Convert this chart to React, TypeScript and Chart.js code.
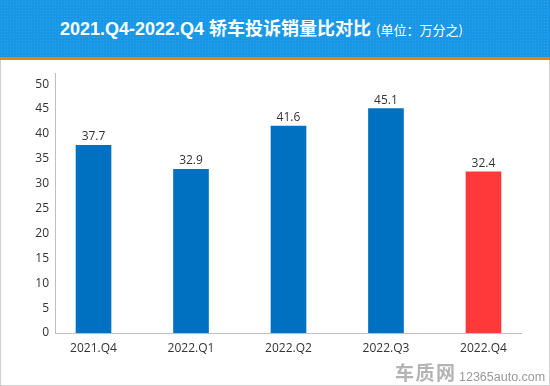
import React, { useEffect, useRef } from 'react';
import { Chart, registerables } from 'chart.js';

Chart.register(...registerables);

const categories = ['2021.Q4', '2022.Q1', '2022.Q2', '2022.Q3', '2022.Q4'];
const values = [37.7, 32.9, 41.6, 45.1, 32.4];
const barColors = ['#0070C0', '#0070C0', '#0070C0', '#0070C0', '#FF3939'];
const yTickValues = [0, 5, 10, 15, 20, 25, 30, 35, 40, 45, 50];

const titleText = '2021.Q4-2022.Q4 轿车投诉销量比对比';
const unitText = '(单位：万分之)';

const valueLabelPlugin = {
  id: 'valueLabels',
  afterDatasetsDraw(chart: any) {
    const ctx = chart.ctx;
    const meta = chart.getDatasetMeta(0);
    ctx.save();
    ctx.font = '12px "Open Sans"';
    ctx.fillStyle = '#333333';
    ctx.textAlign = 'center';
    ctx.textBaseline = 'alphabetic';
    meta.data.forEach((el: any, i: number) => {
      ctx.fillText(String(values[i]), el.x, el.y - 5);
    });
    ctx.restore();
  },
};

function BarChart() {
  const ref = useRef<HTMLCanvasElement | null>(null);
  useEffect(() => {
    if (!ref.current) return;
    const chart = new Chart(ref.current, {
      type: 'bar',
      data: {
        datasets: [
          {
            data: values.map((v, i) => ({ x: i, y: v })),
            backgroundColor: barColors,
            barThickness: 35,
            borderWidth: 0,
          },
        ],
      },
      options: {
        responsive: false,
        animation: false,
        layout: { padding: { top: 12, right: 29, left: 0, bottom: 0 } },
        plugins: { legend: { display: false }, tooltip: { enabled: false }, title: { display: false } },
        scales: {
          x: {
            type: 'linear',
            offset: false,
            min: -0.395,
            max: 4.385,
            grid: { display: false, drawTicks: false, offset: false },
            border: { display: true, color: '#bfbfbf', width: 1 },
            afterBuildTicks: (axis: any) => {
              axis.ticks = categories.map((_, i) => ({ value: i }));
            },
            afterFit: (axis: any) => {
              axis.height = 53;
            },
            ticks: {
              autoSkip: false,
              maxRotation: 0,
              padding: 8,
              color: '#333333',
              font: { family: '"Open Sans"', size: 12 },
              callback: (v: any) => categories[Math.round(Number(v))] ?? '',
            },
          },
          y: {
            type: 'linear',
            min: 0,
            max: 52.2,
            grid: { display: false, drawTicks: false },
            border: { display: true, color: '#bfbfbf', width: 1 },
            afterBuildTicks: (axis: any) => {
              axis.ticks = yTickValues.map((v) => ({ value: v }));
            },
            afterFit: (axis: any) => {
              axis.width = 55;
            },
            ticks: {
              padding: 6,
              color: '#333333',
              font: { family: '"Open Sans"', size: 12 },
            },
          },
        },
      },
      plugins: [valueLabelPlugin],
    } as any);
    return () => chart.destroy();
  }, []);
  return (
    <canvas
      ref={ref}
      width={550}
      height={326}
      style={{ position: 'absolute', left: 0, top: 60, width: 550, height: 326 }}
    />
  );
}

export default function App() {
  return (
    <div
      style={{
        position: 'absolute',
        left: 0,
        top: 0,
        width: 550,
        height: 386,
        overflow: 'hidden',
        background: '#ffffff',
        fontFamily: '"Noto Sans CJK SC", "Open Sans", sans-serif',
      }}
    >
      <div
        style={{
          position: 'absolute',
          left: 0,
          top: 0,
          width: 550,
          height: 57,
          backgroundColor: '#1897e6',
          backgroundImage:
            'radial-gradient(rgba(255,255,255,0.10) 1px, transparent 1px)',
          backgroundSize: '3px 3px',
        }}
      />
      <div
        style={{
          position: 'absolute',
          left: 0,
          top: 57,
          width: 550,
          height: 3,
          background: '#f08200',
        }}
      />
      <div
        style={{
          position: 'absolute',
          left: 0,
          top: 60,
          width: 550,
          height: 326,
          boxSizing: 'border-box',
          borderLeft: '1px solid #cfcfcf',
          borderRight: '1px solid #cfcfcf',
          borderBottom: '1px solid #cfcfcf',
        }}
      />
      <div
        style={{
          position: 'absolute',
          left: 60,
          top: 19,
          height: 19,
          lineHeight: '19px',
          whiteSpace: 'nowrap',
          color: '#ffffff',
        }}
      >
        <span
          style={{
            fontSize: 18,
            fontWeight: 700,
            fontFamily: '"Liberation Sans", "Noto Sans CJK SC", sans-serif',
          }}
        >
          {titleText}
        </span>
        <span style={{ fontSize: 13, fontWeight: 400, marginLeft: 5 }}>{unitText}</span>
      </div>
      <BarChart />
      <div
        style={{
          position: 'absolute',
          left: 395,
          top: 362,
          fontSize: 19,
          fontWeight: 700,
          color: '#b4b4b4',
          lineHeight: '20px',
          letterSpacing: 1.5,
          whiteSpace: 'nowrap',
        }}
      >
        车质网
      </div>
      <div
        style={{
          position: 'absolute',
          left: 459,
          top: 370,
          fontSize: 12.5,
          fontFamily: '"Liberation Sans", Arial, sans-serif',
          color: '#999999',
          lineHeight: '15px',
          whiteSpace: 'nowrap',
        }}
      >
        12365auto.com
      </div>
    </div>
  );
}
